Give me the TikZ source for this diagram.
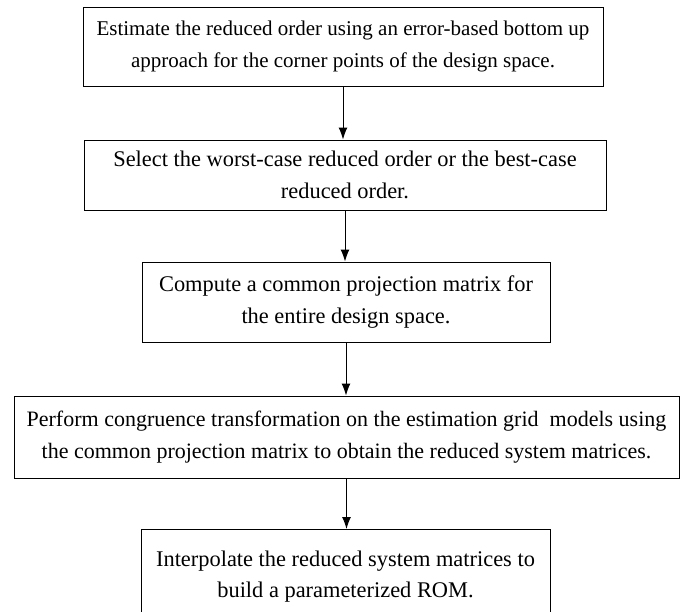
\documentclass[tikz,border=0pt]{standalone}
\usepackage{fontspec}
\setmainfont{Liberation Serif}
\usetikzlibrary{arrows.meta}

\tikzset{stepbox/.style={draw, line width=1pt, align=center, inner sep=0pt,
    font=\fontsize{22.4}{31.5}\selectfont},
  flow/.style={-{Latex[length=12pt,width=9pt]}, line width=1pt}}

\begin{document}
\begin{tikzpicture}[x=1pt,y=-1pt]
\useasboundingbox (0,0) rectangle (686,611);
\clip (0,0) rectangle (686,611);
% boxes of the procedure
\node[stepbox, minimum width=520pt, minimum height=79pt, font=\fontsize{21}{31.5}\selectfont] (estimate) at (343,46.5)
  {Estimate the reduced order using an error-based bottom up\\approach for the corner points of the design space.};
\node[stepbox, minimum width=522pt, minimum height=70pt] (select) at (345,175)
  {Select the worst-case reduced order or the best-case\\reduced order.};
\node[stepbox, minimum width=408pt, minimum height=80pt] (projection) at (346,302)
  {Compute a common projection matrix for\\the entire design space.};
\node[stepbox, minimum width=665pt, minimum height=82pt, font=\fontsize{22}{31.5}\selectfont] (congruence) at (346.5,437)
  {Perform congruence transformation on the estimation grid\ \ models using\\the common projection matrix to obtain the reduced system matrices.};
\node[stepbox, minimum width=409pt, minimum height=92pt, anchor=north] (interpolate) at (345.5,529)
  {\raisebox{12pt}{\begin{tabular}{@{}c@{}}Interpolate the reduced system matrices to\\build a parameterized ROM.\end{tabular}}};
% arrows
\draw[flow] (estimate.south) -- (estimate.south |- select.north);
\draw[flow] (select.south) -- (select.south |- projection.north);
\draw[flow] (projection.south) -- (projection.south |- congruence.north);
\draw[flow] (congruence.south) -- (congruence.south |- interpolate.north);
\end{tikzpicture}
\end{document}
